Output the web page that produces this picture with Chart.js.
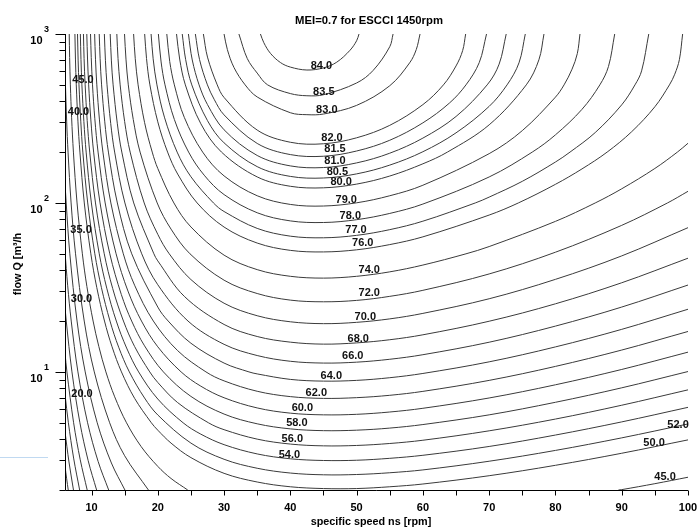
<!DOCTYPE html>
<html><head><meta charset="utf-8">
<script src="https://cdn.jsdelivr.net/npm/chart.js@4.4.0/dist/chart.umd.min.js"></script>
<style>html,body{margin:0;padding:0;background:#fff;}#wrap{width:698px;height:531px;}</style>
</head><body><div id="wrap"><canvas id="c" width="698" height="531"></canvas></div>
<script>
// ---- text ----
const chartTitle = 'MEI=0.7 for ESCCI 1450rpm';
const xTitle = 'specific speed ns [rpm]';
const yTitle = 'flow Q [m³/h';
// ---- ticks ----
const xTicks = [10,20,30,40,50,60,70,80,90,100];
const xMinorTicks = [15,25,35,45,55,65,75,85,95];
const yMajorTicks = [10,100,1000];
const yExponents = ['1','2','3'];
const yMinorTicks = [2,3,4,5,6,7,8,9,20,30,40,50,60,70,80,90,200,300,400,500,600,700,800,900];
// ---- contour lines: [ns, Q] pairs ----
const c84 = [[35.49,1000],[36,888],[37,768],[38.5,678],[40,637],[42.5,612],[45,630],[47,681],[49,801],[50,912],[50.36,1000]];
const c83_5 = [[32.24,1000],[33.5,716],[35,587],[36.57,500],[40,444],[42.5,431],[45,437],[50,513],[52.5,609],[55,841],[55.5,1000]];
const c83 = [[30,1000],[30.5,808],[31.5,633],[33.18,500],[35,424],[40,342],[42.5,333],[45,336],[50,378],[55,494],[58,675],[59,809],[59.57,1000]];
const c82 = [[26.88,1000],[27.5,730],[28.97,500],[30,421],[35,270],[40,228.7],[45,224],[50,243],[55,288],[60,382],[63.1,500],[65,647],[66,798],[66.45,1000]];
const c81_5 = [[25.67,1000],[26.3,706],[27.49,500],[28.5,411],[30,332],[35,225],[40,193.3],[45,189],[50,203],[55,235],[60,298],[64,390],[66.5,500],[68.5,677],[69.6,1000]];
const c81 = [[24.62,1000],[25.2,702],[26.23,500],[27.5,382],[30,271],[35,191],[40,165.7],[45,162],[50,172.6],[55,197],[60,242],[65,325],[69.7,500],[71.5,663],[72.57,1000]];
const c80_5 = [[23.69,1000],[24.2,708],[25.13,500],[27.5,307],[30,226.8],[35,164],[40,143.6],[45,140.5],[50,148.6],[55,167.5],[60,201],[65,260],[70,373],[72.7,500],[74.5,675],[75.45,1000]];
const c80 = [[22.83,1000],[23.3,711],[24.16,500],[26.5,294],[29.61,200],[35,142.6],[40,125.5],[45,122.9],[50,129.3],[55,144.3],[60,170.5],[63.7,200],[70,290],[75.6,500],[77.5,703],[78.27,1000]];
const c79 = [[21.36,1000],[21.8,688],[22.5,500],[24,321],[26.77,200],[30,144.6],[35,110.3],[40,98],[45,95.9],[50,100.2],[55,110.3],[60,127.3],[70,195.8],[75,268],[80,423],[81.3,500],[82.5,619],[83.3,766],[83.7,1000]];
const c78 = [[20.09,1000],[20.5,683],[21.09,500],[22.5,312],[24.65,200],[27,146],[30,112.1],[35,87.5],[40,78.3],[45,76.6],[50,79.6],[55,86.7],[60,98.5],[70,142.5],[76.5,200],[80,253],[84,358],[86.7,500],[88,642],[88.94,1000]];
const c77 = [[18.99,1000],[19.3,713],[19.87,500],[21,322],[22.92,200],[25,142.9],[28.4,100],[30,89],[35,70.7],[40,63.6],[45,62.2],[50,64.3],[55,69.5],[60,78],[67.9,100],[70,108.3],[75,134.3],[80,174.7],[82.2,200],[86,261],[90,381],[92,500],[93,605],[94.08,1000]];
const c76 = [[18.02,1000],[18.3,716],[18.81,500],[20,302],[21.48,200],[23,148.3],[25.94,100],[30,72],[35,57.9],[40,52.4],[45,51.3],[50,52.8],[55,56.7],[60,63],[70,84.8],[74.4,100],[80,128.9],[84,159],[87.8,200],[91.5,264],[95,371],[97.2,500],[98,578],[98.7,705],[99.19,1000]];
const c74 = [[16.35,1000],[16.6,714],[17.03,500],[18,300],[19.16,200],[20,160],[22.43,100],[25,72.1],[30,49.1],[35,40.3],[40,36.8],[45,35.9],[50,36.8],[55,39.1],[60,42.9],[66.5,50],[70,55.2],[80,77.8],[86,100],[90,121.3],[95,160],[98.4,200],[100,225.6]];
const c72 = [[14.98,1000],[15.2,710],[15.55,500],[16.3,312],[17.33,200],[19.91,100],[22,70],[24.86,50],[30,34.9],[35,29.1],[40,26.6],[45,26],[50,26.5],[55,28],[60,30.4],[70,38],[80,51.1],[90,73.7],[96.9,100],[100,117.2]];
const c70 = [[13.82,1000],[14,716],[14.32,500],[15,303],[15.83,200],[17.95,100],[20,65.2],[21.73,50],[25,35.2],[30,25.5],[35,21.5],[40,19.8],[45,19.3],[50,19.65],[55,20.6],[60,22.2],[70,27.1],[80,35.3],[90,48.6],[100,71.4]];
const c68 = [[12.82,1000],[13,693],[13.26,500],[13.9,294],[14.57,200],[16.37,100],[19.41,50],[20,45.4],[24,28],[30,19.09],[35,16.2],[40,15],[45,14.6],[50,14.85],[55,15.5],[60,16.58],[70,19.95],[80,25.3],[90,33.7],[100,47.1]];
const c66 = [[11.94,1000],[12.1,699],[12.34,500],[12.9,295],[13.49,200],[15.04,100],[17.58,50],[20,32.8],[24.56,20],[30,14.56],[35,12.5],[40,11.56],[45,11.28],[50,11.42],[55,11.88],[60,12.64],[70,14.99],[80,18.67],[90,24.2],[100,32.67]];
const c64 = [[11.165,1000],[11.3,714],[11.52,500],[12,302],[12.55,200],[13.9,100],[16.07,50],[20,24.2],[21.57,20],[25,14.78],[30,11.28],[33.76,10],[35,9.73],[40,9.03],[45,8.82],[50,8.91],[55,9.24],[60,9.79],[70,11.47],[80,14.06],[90,17.86],[100,23.49]];
const c62 = [[10.47,1000],[10.6,709],[10.8,500],[11.2,310],[11.72,200],[12.92,100],[14.8,50],[16.5,32.6],[19.33,20],[23,13.36],[27.27,10],[30,8.85],[35,7.68],[40,7.14],[45,6.97],[50,7.04],[55,7.27],[60,7.67],[70,8.91],[80,10.78],[90,13.47],[100,17.35]];
const c60 = [[9.852,1000],[9.96,727],[10.15,500],[10.5,315],[10.99,200],[12.06,100],[13.71,50],[15.5,30.1],[17.54,20],[20,14.08],[23.52,10],[26.5,8.23],[30,7.03],[35,6.12],[40,5.7],[45,5.57],[50,5.61],[55,5.79],[60,6.09],[70,7.01],[80,8.39],[90,10.34],[100,13.09]];
const c58 = [[9.29,1000],[9.4,711],[9.57,500],[9.9,310],[10.32,200],[11.29,100],[12.76,50],[14.5,28.7],[16.06,20],[18,14.27],[20.85,10],[25,7.16],[30,5.63],[35,4.93],[40,4.6],[45,4.49],[50,4.52],[55,4.65],[60,4.88],[70,5.57],[80,6.61],[90,8.05],[100,10.05]];
const c56 = [[8.782,1000],[8.88,714],[9.04,500],[9.35,307],[9.73,200],[10.6,100],[11.92,50],[13.2,31.1],[14.82,20],[16.5,14.14],[18.79,10],[20,8.66],[23,6.58],[27.64,5],[30,4.55],[35,4],[40,3.74],[45,3.65],[50,3.67],[55,3.77],[60,3.94],[70,4.48],[80,5.26],[90,6.35],[100,7.83]];
const c54 = [[8.317,1000],[8.41,706],[8.55,500],[8.85,303],[9.19,200],[9.98,100],[11.17,50],[12.3,31.3],[13.74,20],[15.3,13.84],[17.11,10],[20,6.91],[23.82,5],[26.5,4.28],[30,3.71],[35,3.27],[40,3.06],[45,2.99],[50,3],[55,3.08],[60,3.21],[70,3.62],[80,4.23],[90,5.06],[100,6.17]];
const c52 = [[7.89,1000],[7.98,701],[8.11,500],[8.38,305],[8.69,200],[9.43,100],[10.5,50],[11.5,31.5],[12.79,20],[14.1,14],[15.71,10],[18,7.01],[20,5.56],[25,3.79],[30,3.04],[35,2.69],[40,2.52],[45,2.46],[50,2.47],[55,2.53],[60,2.63],[70,2.96],[80,3.43],[90,4.07],[100,4.92]];
const c50 = [[7.495,1000],[7.58,702],[7.7,500],[7.95,305],[8.25,200],[8.91,100],[9.9,50],[10.8,31.5],[11.96,20],[13.1,14.08],[14.52,10],[16.5,6.98],[19.03,5],[20,4.52],[22,3.79],[25,3.11],[30,2.51],[35,2.23],[40,2.09],[45,2.04],[50,2.04],[55,2.09],[60,2.17],[70,2.43],[80,2.8],[90,3.3],[100,3.96]];
const c45a = [[6.638,1000],[6.7,726],[6.81,500],[7,319],[7.27,200],[7.82,100],[8.62,50],[9.3,32.1],[10.24,20],[11.1,14.16],[12.17,10],[13.5,7.12],[15.28,5],[17.5,3.61],[20,2.76],[22,2.34],[24.52,2]];
const c45b = [[89.5,2],[90,2.01],[95,2.18],[100,2.38]];
const c40 = [[6,656],[6.07,500],[6.25,305],[6.46,200],[6.92,100],[7.59,50],[8.9,20],[10.42,10],[12.74,5],[15,3.19],[18.59,2]];
const c35 = [[6,131.9],[6.18,100],[6.73,50],[7.82,20],[9.05,10],[10.86,5],[13,2.89],[15.04,2]];
const c30 = [[6,51.2],[6.4,32.6],[6.94,20],[7.95,10],[9.41,5],[11,2.95],[12.59,2]];
const c25 = [[6,24.3],[6.19,20],[7.05,10],[8.25,5],[9.5,2.98],[10.77,2]];
const c20 = [[6,12.9],[6.29,10],[7.3,5],[8.3,3.02],[9.35,2]];
const c15 = [[6,7.36],[6.51,5],[7.3,3.09],[8.21,2]];
const c10 = [[6,4.43],[6.6,2.93],[7.28,2]];
const c5 = [[6,2.77],[6.25,2.33],[6.49,2]];
const contourLines = [c84,c83_5,c83,c82,c81_5,c81,c80_5,c80,c79,c78,c77,c76,c74,c72,c70,c68,c66,c64,c62,c60,c58,c56,c54,c52,c50,c45a,c45b,c40,c35,c30,c25,c20,c15,c10,c5];
// ---- contour labels ----
const labelText = ['84.0','83.5','83.0','82.0','81.5','81.0','80.5','80.0','79.0','78.0','77.0','76.0','74.0','72.0','70.0','68.0','66.0','64.0','62.0','60.0','58.0','56.0','54.0','52.0','50.0','45.0','45.0','40.0','35.0','30.0','20.0'];
const labelNs = [44.68,45.05,45.5,46.29,46.74,46.74,47.09,47.66,48.44,49.05,49.91,50.93,51.91,51.91,51.31,50.25,49.42,46.18,43.92,41.81,40.98,40.3,39.85,98.5,94.88,96.54,8.72,8.04,8.42,8.49,8.57];
const labelQ = [647,455,355,242,208.6,177,153,133.6,104,83.7,69.2,57.9,40.1,29.3,21.1,15.66,12.4,9.46,7.55,6.11,4.98,4.01,3.22,4.85,3.8,2.39,534,345,69.2,27,7.4];

const FONT = '"Liberation Sans", Arial, sans-serif';
const deco = {
  id: 'deco',
  afterDatasetsDraw(chart) {
    const {ctx, chartArea: a, scales: {x, y}} = chart;
    ctx.save();
    // contour labels
    ctx.fillStyle = '#111';
    ctx.font = 'bold 11px ' + FONT;
    ctx.textAlign = 'center';
    ctx.textBaseline = 'middle';
    labelText.forEach((t, i) => ctx.fillText(t, x.getPixelForValue(labelNs[i]), y.getPixelForValue(labelQ[i])));
    // axes
    const L = Math.round(a.left) + 0.5, B = Math.round(a.bottom) + 0.5;
    ctx.strokeStyle = '#000';
    ctx.lineWidth = 1;
    ctx.beginPath();
    ctx.moveTo(L, a.top); ctx.lineTo(L, B); ctx.lineTo(a.right, B);
    ctx.stroke();
    // x ticks
    ctx.beginPath();
    xTicks.concat(xMinorTicks).forEach(v => {
      const px = Math.round(x.getPixelForValue(v)) + 0.5;
      ctx.moveTo(px, B); ctx.lineTo(px, B + 5);
    });
    // y ticks
    yMajorTicks.forEach(v => {
      const py = Math.round(y.getPixelForValue(v)) + 0.5;
      ctx.moveTo(L, py); ctx.lineTo(L - 10, py);
    });
    yMinorTicks.forEach(v => {
      const py = Math.round(y.getPixelForValue(v)) + 0.5;
      ctx.moveTo(L, py); ctx.lineTo(L - 6, py);
    });
    ctx.stroke();
    // faint screenshot edge seen at lower left of the original
    ctx.strokeStyle = 'rgba(140,185,230,0.55)';
    ctx.beginPath();
    ctx.moveTo(0, 457.5); ctx.lineTo(48, 457.5);
    ctx.stroke();
    // x tick labels
    ctx.fillStyle = '#000';
    ctx.font = 'bold 11px ' + FONT;
    ctx.textAlign = 'center';
    ctx.textBaseline = 'middle';
    xTicks.forEach(v => ctx.fillText(String(v), x.getPixelForValue(v), B + 17));
    // y tick labels 10^n
    yMajorTicks.forEach((v, i) => {
      const py = y.getPixelForValue(v);
      ctx.font = 'bold 11px ' + FONT;
      ctx.textAlign = 'right';
      ctx.fillText('10', L - 23, py + 7);
      ctx.font = 'bold 9px ' + FONT;
      ctx.textAlign = 'left';
      ctx.fillText(yExponents[i], L - 21.5, py - 4);
    });
    // titles
    ctx.font = 'bold 11.3px ' + FONT;
    ctx.textAlign = 'center';
    ctx.fillText(chartTitle, 369, 21);
    ctx.font = 'bold 10.8px ' + FONT;
    ctx.fillText(xTitle, 371, 522);
    ctx.save();
    ctx.translate(18, 264);
    ctx.rotate(-Math.PI / 2);
    ctx.fillText(yTitle, 0, 0);
    ctx.restore();
    ctx.restore();
  }
};

new Chart(document.getElementById('c'), {
  type: 'scatter',
  data: {
    datasets: contourLines.map(pts => ({
      data: pts.map(p => ({x: p[0], y: p[1]})),
      showLine: true,
      borderColor: '#3a3a3a',
      borderWidth: 1,
      pointRadius: 0,
      tension: 0.35,
      fill: false
    }))
  },
  options: {
    responsive: false,
    animation: false,
    events: [],
    layout: {padding: {left: 65, right: 10, top: 34, bottom: 41}},
    scales: {
      x: {type: 'linear', min: 6, max: 100, display: false},
      y: {type: 'logarithmic', min: 2, max: 1000, display: false}
    },
    plugins: {legend: {display: false}, tooltip: {enabled: false}, title: {display: false}}
  },
  plugins: [deco]
});
</script></body></html>
